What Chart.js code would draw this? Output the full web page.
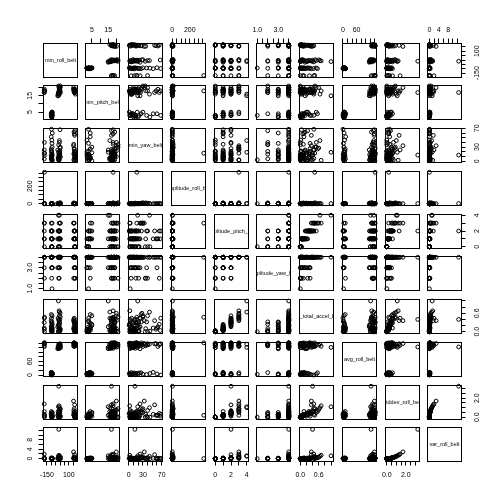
<!DOCTYPE html>
<html><head><meta charset="utf-8">
<script src="https://cdn.jsdelivr.net/npm/chart.js@4.4.1/dist/chart.umd.min.js"></script>
<style>
html,body{margin:0;padding:0;background:#fff;}
#wrap{position:relative;width:504px;height:504px;overflow:hidden;background:#fff;}
#wrap canvas{position:absolute;}
</style>
</head><body><div id="wrap"></div>
<script>
// ---------------- data (one value per observation) ----------------
const varNames = ["min_roll_belt","min_pitch_belt","min_yaw_belt","amplitude_roll_belt","amplitude_pitch_belt","amplitude_yaw_belt","var_total_accel_belt","avg_roll_belt","stddev_roll_belt","var_roll_belt"];

const min_roll_belt = [-180,-180,-179,-178,-180,-177,
 -94,-96,-92,-98,-90,-95,-101,-93,-88,-97,-94,-91,-99,-95,-92,-100,-96,-89,
 -12,-5,-18,2,-8,-22,-15,5,-3,-10,-26,-6,-14,0,-19,-9,3,-16,-2,-11,-7,
 165,170,158,175,168,162,173,155,171,166,160,176,169,163,172,157,167,174,161,
 -93,-97,-91,-95,-99,-90,-8,-13,-4,-17,-1,164,169,159,172,166];
const min_pitch_belt = [18,17,19,18,17,18,
 3,4,2,3,5,4,3,2,4,3,5,3,4,2,3,4,3,5,
 17,19,15,20,18,16,21,17,19,18,15,20,17,18,16,19,21,17,18,20,16,
 18,17,19,18,17,19,18,20,17,18,19,16,18,17,19,18,17,18,19,
 3,4,3,2,4,3,18,17,19,16,20,18,17,19,18,18];
const min_yaw_belt = [24,5,12,40,17,17,
 2,8,15,22,30,5,12,45,60,68,18,3,26,10,38,52,7,1,
 4,11,19,28,14,6,35,9,16,2,24,40,13,67,7,21,30,3,17,10,44,
 58,65,3,12,20,27,8,33,15,1,62,6,18,25,10,36,55,4,14,
 4,9,14,20,6,11,5,8,12,3,22,7,2,16,9,21];
const amplitude_roll_belt = [0,2,0,5,1,360,
 0,1,0,3,0,2,0,1,0,0,4,0,1,0,2,0,0,1,
 1,0,2,0,8,0,1,3,0,0,5,0,2,0,1,0,12,0,1,0,3,
 0,1,0,2,0,6,0,1,0,3,0,0,2,1,0,10,0,1,0,
 0,0,1,0,0,2,0,1,0,0,0,0,0,1,0,0];
const amplitude_pitch_belt = [3,2,1,0,1,3,
 1,2,0,1,3,1,2,0,1,2,1,0,3,1,2,1,0,2,
 2,1,4,3,1,2,0,1,2,3,1,2,2,1,0,2,3,1,2,1,4,
 1,2,3,0,1,2,1,3,0,2,1,1,2,3,0,1,2,1,2,
 0,1,1,0,2,1,1,0,1,2,0,1,0,1,1,0];
const amplitude_yaw_belt = [4,3,4,2,4,4,
 4,4,3,4,4,2,4,4,3,4,4,1,4,4,3,4,4,4,
 4,4,4,4,3,4,2,4,4,4,3,4,4,4,4,2,4,3,4,4,4,
 4,2,4,4,3,4,4,4,2,4,4,3,4,4,4,2,4,4,3,
 4,4,4,3,4,4,4,4,3,4,4,4,4,4,3,4];
const var_total_accel_belt = [0.44,0.30,0.08,0.00,0.12,0.47,
 0.08,0.28,0.00,0.16,0.52,0.04,0.36,0.02,0.12,0.44,0.20,0.00,0.56,0.08,0.32,0.12,0.04,0.24,
 0.36,0.12,1.00,0.60,0.20,0.44,0.00,0.08,0.28,0.68,0.16,0.52,0.40,0.04,0.02,0.32,0.48,0.24,0.40,0.10,0.64,
 0.08,0.24,0.40,0.00,0.12,0.32,0.04,0.36,0.02,0.20,0.16,0.06,0.28,0.44,0.00,0.10,0.36,0.14,0.30,
 0.00,0.06,0.04,0.02,0.16,0.08,0.06,0.00,0.04,0.20,0.02,0.04,0.00,0.08,0.06,0.02];
const avg_roll_belt = [131,140,125,138,142,142,
 3,6,1,9,4,11,2,7,5,0,8,3,10,6,2,12,4,7,
 122,128,122,132,118,125,135,120,130,127,116,133,124,138,121,129,126,119,131,123,136,
 138,134,140,130,136,142,128,139,133,141,126,137,135,131,140,129,138,132,142,
 5,2,8,4,1,9,126,121,129,117,133,137,131,141,135,139];
const stddev_roll_belt = [1.4,0.3,0.1,0.0,0.6,0.2,
 0.1,0.3,0.0,0.2,0.5,0.1,0.4,0.0,0.2,0.3,0.1,0.0,0.6,0.2,0.1,0.3,0.0,0.4,
 0.5,0.2,1.1,0.8,0.3,0.6,0.0,0.1,0.4,1.2,0.2,0.7,3.26,0.1,0.0,0.5,0.9,0.3,0.6,0.2,1.0,
 0.2,0.4,0.7,0.0,0.3,0.5,0.1,1.7,0.0,0.4,0.2,0.1,0.6,0.9,0.0,0.3,1.3,0.2,0.5,
 0.0,0.1,0.1,0.0,0.2,0.1,0.1,0.0,0.2,0.3,0.0,0.1,0.0,0.2,0.1,0.0];
const var_roll_belt = [1.96,0.09,0.01,0.0,0.36,0.04,
 0.01,0.09,0.0,0.04,0.25,0.01,0.16,0.0,0.04,0.09,0.01,0.0,0.36,0.04,0.01,0.09,0.0,0.16,
 0.25,0.04,1.21,0.64,0.09,0.36,0.0,0.01,0.16,1.44,0.04,0.49,12.5,0.01,0.0,0.25,0.81,0.09,0.36,0.04,1.0,
 0.04,0.16,0.49,0.0,0.09,0.25,0.01,2.89,0.0,0.16,0.04,0.01,0.36,0.81,0.0,0.09,1.69,0.04,0.25,
 0.0,0.01,0.01,0.0,0.04,0.01,0.01,0.0,0.04,0.09,0.0,0.01,0.0,0.04,0.01,0.0];

// tick positions and the tick labels that are printed
const tickValues = [
 [-150,-100,-50,0,50,100,150],
 [5,10,15,20],
 [0,10,20,30,40,50,60,70],
 [0,50,100,150,200,250,300,350],
 [0,1,2,3,4],
 [1,1.5,2,2.5,3,3.5,4],
 [0,0.2,0.4,0.6,0.8,1.0],
 [0,20,40,60,80,100,120,140],
 [0,0.5,1,1.5,2,2.5,3],
 [0,2,4,6,8,10,12]
];
const tickLabels = [
 ["-150","100"],["5","15"],["0","30","70"],["0","200"],["0","2","4"],
 ["1.0","3.0"],["0.0","0.6"],["0","60"],["0.0","2.0"],["0","4","8"]
];
// axis ranges (data range widened by 4% each side)
const axisMin = [-194.4, 0.8, -1.7, -14.4, -0.16, 0.88, -0.042, -4.2, -0.19, -1.0];
const axisMax = [ 194.4, 21.6, 70.7, 374.4, 4.16, 4.12, 1.065, 145.8, 3.39, 13.5];

const variables = [min_roll_belt,min_pitch_belt,min_yaw_belt,amplitude_roll_belt,amplitude_pitch_belt,
  amplitude_yaw_belt,var_total_accel_belt,avg_roll_belt,stddev_roll_belt,var_roll_belt];

// ---------------- layout ----------------
const NV = variables.length;
const PANEL = 34;
const origin = [43,85,128,171,214,256,299,342,385,427];
const M = 30;
const S = PANEL + 2*M;
const FONT = '"Liberation Sans", Arial, Helvetica, sans-serif';

const decor = {
  id: 'pairsDecor',
  afterDraw(chart) {
    const o = chart.options.plugins.pairsDecor;
    const ctx = chart.ctx, a = chart.chartArea;
    ctx.save();
    ctx.strokeStyle = '#000'; ctx.lineWidth = 1;
    ctx.strokeRect(a.left + 0.5, a.top + 0.5, a.right - a.left, a.bottom - a.top);
    if (o.diagLabel) {
      ctx.save();
      ctx.beginPath(); ctx.rect(a.left + 1, a.top + 1, a.right - a.left - 1, a.bottom - a.top - 1); ctx.clip();
      ctx.font = '5.5px ' + FONT; ctx.fillStyle = '#000';
      ctx.textAlign = 'center'; ctx.textBaseline = 'middle';
      ctx.fillText(o.diagLabel, (a.left + a.right) / 2 + 0.5, (a.top + a.bottom) / 2 + 0.5);
      ctx.restore();
    }
    ctx.font = '7px ' + FONT; ctx.fillStyle = '#000';
    ctx.textAlign = 'center'; ctx.textBaseline = 'middle';
    for (const ax of o.axes) {
      const sc = chart.scales[ax.scaleId];
      for (const lab of ax.labels) {
        const p = sc.getPixelForValue(parseFloat(lab));
        if (ax.side === 'top') ctx.fillText(lab, p, a.top - 13);
        else if (ax.side === 'bottom') ctx.fillText(lab, p, a.bottom + 14.5);
        else {
          ctx.save();
          ctx.translate(ax.side === 'left' ? a.left - 13 : a.right + 16.5, p);
          ctx.rotate(-Math.PI / 2);
          ctx.fillText(lab, 0, 0);
          ctx.restore();
        }
      }
    }
    ctx.restore();
  }
};

function scaleCfg(v, axis, side) {
  const cfg = { type: 'linear', min: axisMin[v], max: axisMax[v], display: !!side };
  if (side) {
    cfg.position = side;
    cfg.ticks = { display: false };
    cfg.grid = { display: true, drawOnChartArea: false, drawTicks: true, tickLength: 4.5, color: '#000', lineWidth: 1 };
    cfg.border = { display: false };
    cfg.afterBuildTicks = (s) => { s.ticks = tickValues[v].map(t => ({ value: t })); };
    cfg.afterFit = (s) => { if (axis === 'x') s.height = M; else s.width = M; };
  }
  return cfg;
}

const wrap = document.getElementById('wrap');
for (let i = 0; i < NV; i++) {
  for (let j = 0; j < NV; j++) {
    const cv = document.createElement('canvas');
    cv.width = S; cv.height = S;
    cv.style.width = S + 'px'; cv.style.height = S + 'px';
    cv.style.left = (origin[j] - M) + 'px';
    cv.style.top = (origin[i] - M) + 'px';
    wrap.appendChild(cv);

    let xSide = null, ySide = null;
    if (i === 0 && j % 2 === 1) xSide = 'top';
    if (i === NV - 1 && j % 2 === 0) xSide = 'bottom';
    if (j === 0 && i % 2 === 1) ySide = 'left';
    if (j === NV - 1 && i % 2 === 0) ySide = 'right';

    const axes = [];
    if (xSide) axes.push({ side: xSide, scaleId: 'x', labels: tickLabels[j] });
    if (ySide) axes.push({ side: ySide, scaleId: 'y', labels: tickLabels[i] });

    const pts = [];
    if (i !== j) {
      const xs = variables[j], ys = variables[i];
      for (let k = 0; k < xs.length; k++) pts.push({ x: xs[k], y: ys[k] });
    }

    new Chart(cv, {
      type: 'scatter',
      data: { datasets: i === j ? [] : [{
        data: pts,
        pointStyle: 'circle',
        pointRadius: 1.9,
        pointBorderWidth: 1,
        borderColor: '#000',
        backgroundColor: 'rgba(0,0,0,0)',
        pointBackgroundColor: 'rgba(0,0,0,0)',
        pointBorderColor: '#000',
        showLine: false,
        clip: 4
      }] },
      options: {
        responsive: false,
        animation: false,
        devicePixelRatio: 1,
        events: [],
        layout: { padding: {
          left: ySide === 'left' ? 0 : M,
          right: ySide === 'right' ? 0 : M,
          top: xSide === 'top' ? 0 : M,
          bottom: xSide === 'bottom' ? 0 : M } },
        scales: { x: scaleCfg(j, 'x', xSide), y: scaleCfg(i, 'y', ySide) },
        plugins: {
          legend: { display: false },
          tooltip: { enabled: false },
          pairsDecor: { diagLabel: i === j ? varNames[i] : null, axes: axes }
        }
      },
      plugins: [decor]
    });
  }
}
</script>
</body></html>
